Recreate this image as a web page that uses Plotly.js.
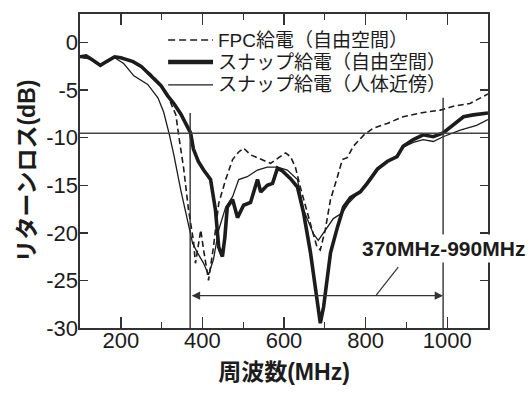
<!DOCTYPE html>
<html><head><meta charset="utf-8">
<script src="https://cdn.plot.ly/plotly-3.0.1.min.js"></script>
<style>html,body{margin:0;padding:0;background:#fff;}#plot{width:532px;height:394px;}</style>
</head><body><div id="plot"></div>
<script>
// ---- data ----
const seriesNames = ['FPC給電（自由空間）', 'スナップ給電（自由空間）', 'スナップ給電（人体近傍）'];

const fpcFreq = [100,130,150,165,185,200,230,250,273,298,315,322,335,342,354,366,378,383,396,403,415,427,440,457,474,489,501,518,543,567,587,604,616,628,640,653,669,681,689,701,714,731,743,755,770,796,819,853,892,934,983,1015,1056,1100];
const fpcRL   = [-1.5,-1.8,-2.4,-2.0,-1.5,-1.6,-2.0,-2.5,-3.3,-4.4,-5.5,-6.3,-7.6,-9.8,-13.2,-17.6,-20.8,-23.2,-19.7,-21.8,-25.0,-21.5,-16.9,-14.4,-12.3,-11.5,-11.1,-11.8,-12.3,-12.7,-12.1,-11.6,-12.0,-13.1,-15.2,-17.3,-19.7,-21.5,-21.8,-19.7,-16.5,-14.1,-12.3,-12.1,-10.9,-9.7,-9.0,-8.5,-7.8,-7.4,-7.1,-6.7,-6.4,-5.4];

const snapFreq = [100,115,130,150,165,185,200,230,250,273,298,315,330,347,360,371,378,390,403,420,432,440,449,455,461,474,486,501,518,535,543,559,572,584,596,616,633,648,665,681,689,697,714,731,746,763,787,804,829,853,877,892,917,941,966,990,1015,1040,1064,1100];
const snapRL   = [-1.5,-1.4,-1.8,-2.4,-2.0,-1.5,-1.6,-2.0,-2.5,-3.4,-4.5,-5.6,-6.4,-7.5,-8.5,-9.5,-11.2,-12.5,-13.4,-14.4,-17.6,-21.5,-22.5,-20.5,-17.3,-16.5,-18.4,-17.1,-16.8,-14.4,-15.7,-15.0,-14.8,-13.2,-13.5,-14.3,-15.2,-17.9,-22.1,-26.7,-29.5,-27.8,-22.1,-19.4,-17.3,-16.3,-15.7,-14.8,-13.3,-12.5,-12.0,-10.9,-10.2,-9.7,-9.9,-9.5,-8.7,-7.8,-7.6,-7.4];

const bodyFreq = [100,130,150,165,185,207,232,266,291,305,318,330,347,364,376,388,403,415,427,440,457,474,489,510,535,559,584,608,633,648,672,684,706,721,743,758,787,804,829,853,877,892,917,941,966,990,1032,1072,1100];
const bodyRL   = [-1.5,-1.8,-2.4,-2.0,-1.6,-2.2,-3.5,-4.4,-5.8,-7.3,-9.5,-11.8,-15.5,-18.7,-21.1,-22.1,-23.2,-24.4,-22.8,-19.7,-17.3,-16.2,-14.4,-14.1,-13.4,-13.1,-13.1,-13.4,-14.4,-17.6,-20.1,-20.8,-19.4,-18.5,-17.9,-16.9,-15.6,-14.6,-13.2,-12.4,-12.0,-11.0,-10.5,-10.2,-10.4,-9.9,-9.2,-8.7,-8.1];

const yTickVals = [0,-5,-10,-15,-20,-25,-30];
const yTickText = ['0','-5','-10','-15','-20','-25','-30'];
const refLevel = -9.54;          // VSWR 2 line
const bandLow = 370, bandHigh = 990;
const bandLabel = '370MHz-990MHz';
const xTitle = '周波数(MHz)';
const yTitle = 'リターンロス(dB)';

// ---- styling ----
const FONT = "'Liberation Sans', 'Noto Sans CJK JP', sans-serif";
const INK = '#1c1c1c';

const traces = [
  {x: fpcFreq, y: fpcRL, name: seriesNames[0], mode: 'lines',
   line: {color: INK, width: 1.6, dash: '6px,3.5px'}},
  {x: snapFreq, y: snapRL, name: seriesNames[1], mode: 'lines',
   line: {color: INK, width: 3.6}},
  {x: bodyFreq, y: bodyRL, name: seriesNames[2], mode: 'lines',
   line: {color: INK, width: 1.3}}
];

// manual legend (paper coordinates)
const legRows = [0.917, 0.847, 0.774];
const legStyles = [
  {color: INK, width: 1.6, dash: '7px,4px'},
  {color: INK, width: 4.5},
  {color: INK, width: 1.3}
];
const shapes = [
  {type: 'line', xref: 'paper', yref: 'y', x0: 0, x1: 1, y0: refLevel, y1: refLevel,
   line: {color: '#444', width: 1.5}},
  {type: 'line', xref: 'x', yref: 'y', x0: bandLow, x1: bandLow, y0: -7.4, y1: -30,
   line: {color: '#333', width: 1.4}},
  {type: 'line', xref: 'x', yref: 'y', x0: bandHigh, x1: bandHigh, y0: -5.8, y1: -30,
   line: {color: '#333', width: 1.4}},
  {type: 'line', xref: 'x', yref: 'y', x0: 826, x1: 880, y0: -26.55, y1: -23.6,
   line: {color: '#333', width: 1.2}}
];
const annotations = [];
seriesNames.forEach((nm, i) => {
  shapes.push({type: 'line', xref: 'paper', yref: 'paper', x0: 0.216, x1: 0.326,
    y0: legRows[i], y1: legRows[i], line: legStyles[i]});
  annotations.push({xref: 'paper', yref: 'paper', x: 0.334, y: legRows[i],
    xanchor: 'left', yanchor: 'middle', text: nm, showarrow: false,
    font: {family: FONT, size: 19, color: INK}});
});
annotations.push({xref: 'x', yref: 'y', x: bandHigh, y: -21.6, text: '<b>' + bandLabel + '</b>',
  showarrow: false, xanchor: 'center', yanchor: 'middle', bgcolor: '#ffffff', borderpad: 2,
  font: {family: FONT, size: 21, color: INK}});
annotations.push({xref: 'x', yref: 'y', axref: 'x', ayref: 'y', x: bandHigh, y: -26.6,
  ax: bandLow, ay: -26.6, text: '', showarrow: true, arrowside: 'end+start',
  arrowhead: 2, arrowsize: 1.3, arrowwidth: 1.3, arrowcolor: '#333'});

const axisFont = {family: FONT, size: 22, color: INK};
const layout = {
  width: 532, height: 394,
  margin: {l: 80, r: 44, t: 14, b: 66},
  paper_bgcolor: '#ffffff', plot_bgcolor: '#ffffff',
  showlegend: false,
  font: {family: FONT, color: INK},
  xaxis: {
    range: [100, 1100], tickmode: 'linear', tick0: 200, dtick: 200,
    ticks: 'inside', ticklen: 11, tickwidth: 1.4, tickcolor: '#333',
    minor: {tick0: 100, dtick: 100, ticks: 'inside', ticklen: 6, tickwidth: 1.4, tickcolor: '#333'},
    showline: true, linecolor: '#333', linewidth: 1.6, mirror: 'ticks',
    showgrid: false, zeroline: false, tickfont: axisFont, ticklabelstandoff: -8,
    title: {text: '<b>' + xTitle + '</b>', font: {family: FONT, size: 23, color: INK}, standoff: 12}
  },
  yaxis: {
    range: [-30, 3], tickmode: 'array', tickvals: yTickVals, ticktext: yTickText,
    ticks: 'inside', ticklen: 8, tickwidth: 1.4, tickcolor: '#333',
    showline: true, linecolor: '#333', linewidth: 1.6, mirror: 'ticks',
    showgrid: false, zeroline: false, tickfont: axisFont, ticklabelstandoff: -4,
    title: {text: '<b>' + yTitle + '</b>', font: {family: FONT, size: 23, color: INK}, standoff: 4}
  },
  shapes: shapes,
  annotations: annotations
};
Plotly.newPlot('plot', traces, layout, {displayModeBar: false, staticPlot: true});
</script>
</body></html>
